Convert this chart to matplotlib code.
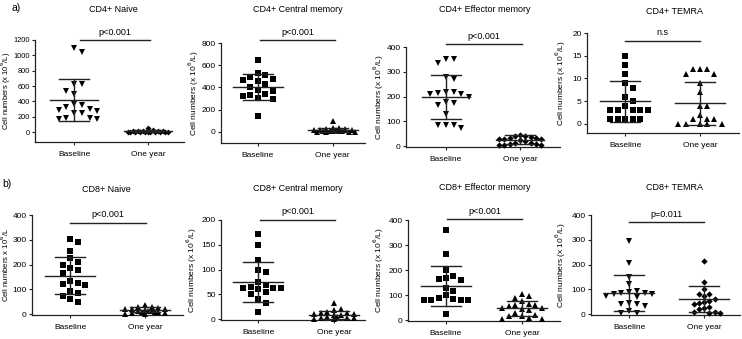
import numpy as np
import matplotlib
matplotlib.use("Agg")
import matplotlib.pyplot as plt

plt.rcParams['font.family'] = ['Liberation Sans', 'DejaVu Sans']

# ---------------- data ----------------
groups = ["Baseline", "One year"]
titles = ["CD4+ Naive", "CD4+ Central memory", "CD4+ Effector memory", "CD4+ TEMRA",
          "CD8+ Naive", "CD8+ Central memory", "CD8+ Effector memory", "CD8+ TEMRA"]
pvalues = ["p<0.001", "p<0.001", "p<0.001", "n.s", "p<0.001", "p<0.001", "p<0.001", "p=0.011"]
ylabels = ["Cell numbers (x 10$^6$/L)"] * 4 + ["Cell numbers x 10$^6$/L"] + ["Cell numbers (x 10$^6$/L)"] * 3

cd4_naive_base = [1100, 1040, 630, 630, 540, 490, 370, 350, 320, 300, 290, 280, 250, 250, 180, 180, 170, 170]
cd4_naive_1y = [50, 20, 15, 10, 10, 8, 8, 5, 5, 5, 3, 3, 2, 2, 1, 1, 0, 0]
cd4_cm_base = [650, 530, 510, 490, 480, 470, 460, 430, 400, 380, 370, 340, 330, 320, 310, 300, 140]
cd4_cm_1y = [100, 40, 35, 30, 25, 20, 20, 15, 15, 10, 10, 8, 5, 5, 3, 2, 0, 0]
cd4_em_base = [350, 350, 335, 280, 270, 220, 220, 215, 210, 210, 200, 180, 175, 165, 130, 85, 85, 85, 75]
cd4_em_1y = [45, 42, 40, 38, 35, 35, 30, 30, 28, 25, 20, 15, 12, 10, 8, 5, 5, 5]
cd4_temra_base = [15, 13, 11, 9, 8, 6, 5, 4, 3, 3, 3, 3, 3, 1, 1, 1, 1, 1]
cd4_temra_1y = [12, 12, 12, 11, 11, 9, 7, 4, 4, 2, 1, 1, 1, 0, 0, 0, 0, 0]
cd8_naive_base = [305, 290, 255, 225, 210, 200, 185, 180, 165, 135, 125, 120, 118, 95, 85, 75, 60, 48]
cd8_naive_1y = [38, 30, 28, 25, 22, 20, 20, 18, 15, 15, 12, 10, 10, 8, 5, 5, 3, 2]
cd8_cm_base = [172, 150, 120, 100, 95, 75, 70, 65, 62, 62, 62, 60, 55, 50, 40, 32, 15]
cd8_cm_1y = [32, 20, 18, 15, 12, 12, 10, 10, 8, 8, 5, 5, 3, 2, 2, 0, 0]
cd8_em_base = [360, 265, 200, 175, 170, 165, 160, 130, 115, 100, 90, 85, 80, 80, 80, 80, 25]
cd8_em_1y = [105, 95, 90, 75, 65, 60, 60, 55, 50, 50, 45, 40, 30, 20, 15, 15, 10, 5, 5]
cd8_temra_base = [295, 205, 150, 120, 95, 90, 85, 85, 80, 80, 75, 70, 45, 40, 40, 35, 15, 5, 5]
cd8_temra_1y = [215, 130, 100, 80, 80, 75, 60, 55, 50, 45, 40, 30, 25, 20, 10, 10, 5, 5]

# mean and SD bars: (mean, lower, upper) per group
cd4_naive_bars = [(415, 140, 690), (8, 0, 20)]
cd4_cm_bars = [(405, 290, 520), (20, 2, 38)]
cd4_em_bars = [(200, 110, 288), (25, 10, 45)]
cd4_temra_bars = [(5, 0.5, 9.5), (4.5, -0.3, 9.2)]
cd8_naive_bars = [(155, 80, 232), (18, 10, 28)]
cd8_cm_bars = [(75, 35, 115), (8, 0, 17)]
cd8_em_bars = [(135, 55, 217), (47, 18, 75)]
cd8_temra_bars = [(85, 15, 157), (62, 10, 115)]

yticks = [[0, 200, 400, 600, 800, 1000, 1200], [0, 200, 400, 600, 800], [0, 100, 200, 300, 400],
          [0, 5, 10, 15, 20], [0, 100, 200, 300, 400], [0, 50, 100, 150, 200],
          [0, 100, 200, 300, 400], [0, 100, 200, 300, 400]]
ylims = [(-130, 1200), (-99, 800), (-3, 400), (-2, 20), (-3, 400), (-1.5, 200), (-3, 400), (-3, 400)]
xlims = [(-0.53, 1.49), (-0.49, 1.43), (-0.54, 1.54), (-0.51, 1.52),
         (-0.51, 1.51), (-0.49, 1.41), (-0.5, 1.5), (-0.51, 1.48)]
pbar_y = [1200, 827, 412, 18.3, 368, 201, 402, 370]
pbar_x = [(0.08, 1.03), (0.03, 1.03), (0.0, 1.03), (0.0, 1.0),
          (0.0, 1.01), (0.03, 1.01), (0.01, 1.0), (0.0, 1.0)]

data = [(cd4_naive_base, cd4_naive_1y), (cd4_cm_base, cd4_cm_1y), (cd4_em_base, cd4_em_1y),
        (cd4_temra_base, cd4_temra_1y), (cd8_naive_base, cd8_naive_1y), (cd8_cm_base, cd8_cm_1y),
        (cd8_em_base, cd8_em_1y), (cd8_temra_base, cd8_temra_1y)]
bars = [cd4_naive_bars, cd4_cm_bars, cd4_em_bars, cd4_temra_bars,
        cd8_naive_bars, cd8_cm_bars, cd8_em_bars, cd8_temra_bars]
markers = [("v", "D"), ("s", "^"), ("v", "D"), ("s", "^"),
           ("s", "^"), ("s", "^"), ("s", "^"), ("v", "D")]
msizes = [(5.0, 3.0), (4.8, 4.0), (5.0, 3.2), (4.8, 4.6),
          (4.8, 4.2), (4.8, 4.2), (4.8, 4.2), (5.0, 3.2)]

# axes boxes in pixels: left, top, right, bottom
W, H = 742, 339
boxes = [(35, 40, 184, 142), (221, 43, 365, 143), (406, 47, 560, 147), (587, 33, 739, 133),
         (32, 215, 183, 315), (221, 220, 365, 320), (408, 220, 560, 321), (591, 215, 740, 315)]
title_pos = [(113, 10), (298, 10), (485, 10), (675, 11),
             (106, 189), (298, 188), (485, 187), (675, 187)]
ylabel_right_px = [13, 201, 386, 568, 11, 199, 386, 568]

fig = plt.figure(figsize=(W / 100, H / 100), dpi=100)


def swarm(vals, ylim, hpx, xppu, mpx, limit_px):
    """Simple column-scatter layout: place points near the centre without overlap,
    within +-limit_px; if crowded, choose the least-overlapping slot."""
    order = np.argsort(vals)[::-1]
    ypx = (np.asarray(vals, float) - ylim[0]) / (ylim[1] - ylim[0]) * hpx
    placed = []
    offs = np.zeros(len(vals))
    step = mpx * 0.5
    n = int(limit_px // step)
    cands = [0.0]
    for k in range(1, n + 1):
        cands += [k * step, -k * step]
    for i in order:
        best, bestd = None, -1
        for c in cands:
            if not placed:
                best = c
                break
            d = min(max(abs(c - px), abs(ypx[i] - py)) for px, py in placed)
            if d >= mpx * 0.95:
                best = c
                break
            if d > bestd + 0.3:
                best, bestd = c, d
        placed.append((best, ypx[i]))
        offs[i] = best / xppu
    return offs


lc = "#222222"
for idx in range(8):
    l, t, r, b = boxes[idx]
    ax = fig.add_axes([l / W, 1 - b / H, (r - l) / W, (b - t) / H])
    ax.set_xlim(*xlims[idx])
    ax.set_ylim(*ylims[idx])
    wpx = r - l
    hpx = b - t
    xppu = wpx / (xlims[idx][1] - xlims[idx][0])
    for g in range(2):
        vals = data[idx][g]
        mpx = msizes[idx][g] * 1.39 + 0.8
        offs = swarm(vals, ylims[idx], hpx, xppu, mpx, 0.32 * xppu)
        ax.plot(g + offs, vals, linestyle="none", marker=markers[idx][g],
                markersize=msizes[idx][g], color="black", mew=0, clip_on=False, zorder=3)
        m, lo, hi = bars[idx][g]
        ax.plot([g - 0.33, g + 0.33], [m, m], color=lc, lw=1.0, zorder=4, clip_on=False)
        ax.plot([g - 0.2, g + 0.2], [lo, lo], color=lc, lw=1.0, zorder=4, clip_on=False)
        ax.plot([g - 0.2, g + 0.2], [hi, hi], color=lc, lw=1.0, zorder=4, clip_on=False)
        ax.plot([g, g], [lo, hi], color=lc, lw=1.0, zorder=4, clip_on=False)
    # p value bar
    x0, x1 = pbar_x[idx]
    ax.plot([x0, x1], [pbar_y[idx]] * 2, color=lc, lw=1.0, clip_on=False)
    ax.annotate(pvalues[idx], xy=((x0 + x1) / 2, pbar_y[idx]), xytext=(0, 2.5),
                textcoords="offset points", ha="center", va="bottom", fontsize=6.5,
                annotation_clip=False)
    tx, ty = title_pos[idx]
    fig.text(tx / W, 1 - ty / H, titles[idx], fontsize=6.5, ha="center", va="center")
    ax.set_yticks(yticks[idx])
    ax.set_xticks([0, 1])
    ax.set_xticklabels(groups)
    ax.tick_params(axis="both", labelsize=6, length=2.2, width=0.8, color=lc, pad=1.5)
    ax.tick_params(axis="x", pad=4)
    if idx == 0:
        ax.tick_params(axis="y", labelsize=5.3, pad=1.2)
    for s in ["top", "right"]:
        ax.spines[s].set_visible(False)
    for s in ["left", "bottom"]:
        ax.spines[s].set_linewidth(0.9)
        ax.spines[s].set_color(lc)
    ax.spines["left"].set_bounds(ylims[idx][0], yticks[idx][-1])
    ax.set_ylabel(ylabels[idx], fontsize=5.6 if idx == 4 else (5.5 if idx == 0 else 6.0))
    ax.yaxis.set_label_coords((ylabel_right_px[idx] - l) / wpx, 0.5)
    ax.patch.set_alpha(0)

fig.text(11 / W, 1 - 8 / H, "a)", fontsize=7.5, ha="left", va="center")
fig.text(2 / W, 1 - 184 / H, "b)", fontsize=7.5, ha="left", va="center")

fig.savefig("out.png", dpi=100)
